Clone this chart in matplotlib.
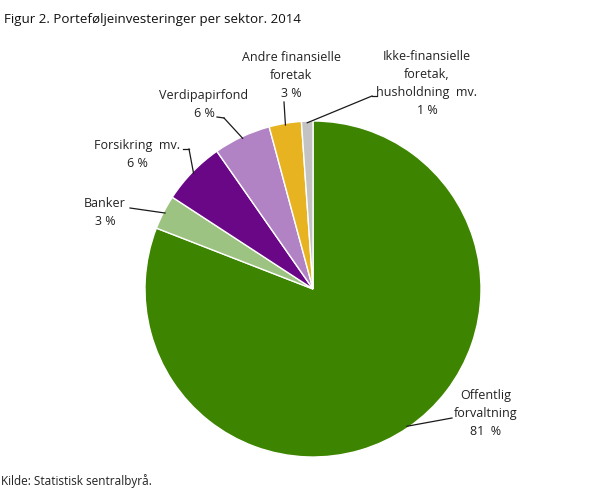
import matplotlib
matplotlib.use("Agg")
import matplotlib.pyplot as plt
import numpy as np

plt.rcParams['font.family'] = ['Open Sans', 'DejaVu Sans']

categories = ["Offentlig\nforvaltning\n81  %", "Banker\n3 %", "Forsikring  mv.\n6 %",
              "Verdipapirfond\n6 %", "Andre finansielle\nforetak\n3 %",
              "Ikke-finansielle\nforetak,\nhusholdning  mv.\n1 %"]
values = [80.9, 3.3, 6.1, 5.5, 3.1, 1.1]
colors = ["#3d8500", "#9dc383", "#6a0787", "#b283c4", "#e8b320", "#c3c3c3"]

W, H = 608, 489
fig = plt.figure(figsize=(W/100, H/100), dpi=100)
cx, cy, R = 313, 290, 168
ax = fig.add_axes([(cx-R)/W, (H-cy-R)/H, 2*R/W, 2*R/H])

wedges, _ = ax.pie(values, colors=colors, startangle=90, counterclock=False,
                   radius=1.0, center=(0, 0), frame=True,
                   wedgeprops=dict(edgecolor='white', linewidth=1.0))
ax.set_xlim(-1, 1); ax.set_ylim(-1, 1)
ax.axis('off')

def px(x, y):
    return ((x - cx) / R, (cy - y) / R)

# text centre (pixels) and elbow point (pixels) per label
layout = [
    dict(text=(486, 414), elbow=(452, 419)),
    dict(text=(105, 213), elbow=(130, 209)),
    dict(text=(137, 155), elbow=(189, 150)),
    dict(text=(204, 105), elbow=(224, 119)),
    dict(text=(291, 76), elbow=(284, 103)),
    dict(text=(427, 84), elbow=(372, 97)),
]

for w, lab, lay in zip(wedges, categories, layout):
    mid = np.deg2rad((w.theta1 + w.theta2) / 2)
    ex, ey = np.cos(mid) * 0.99, np.sin(mid) * 0.99
    bx, by = px(*lay['elbow'])
    tx, ty = px(*lay['text'])
    ax.plot([bx, ex], [by, ey], color='#1a1a1a', lw=0.9, clip_on=False)
    ax.text(tx, ty, lab, ha='center', va='center', fontsize=9, color='#222222',
            linespacing=1.5, clip_on=False)

# short horizontal ticks at label side
extra = [((189, 150), (183, 150)), ((224, 119), (217, 118)),
         ((372, 97), (377, 97))]
for (a, b) in extra:
    p1 = px(*a); p2 = px(*b)
    ax.plot([p1[0], p2[0]], [p1[1], p2[1]], color='#1a1a1a', lw=0.9, clip_on=False)

fig.text(4/W, 1 - 19/H, "Figur 2. Porteføljeinvesteringer per sektor. 2014",
         fontsize=9.6, ha='left', va='center', color='#111111')
fig.text(1/W, 1 - 481/H, "Kilde: Statistisk sentralbyrå.", fontsize=8.5,
         ha='left', va='center', color='#222222')

fig.savefig("out.png", dpi=100)
